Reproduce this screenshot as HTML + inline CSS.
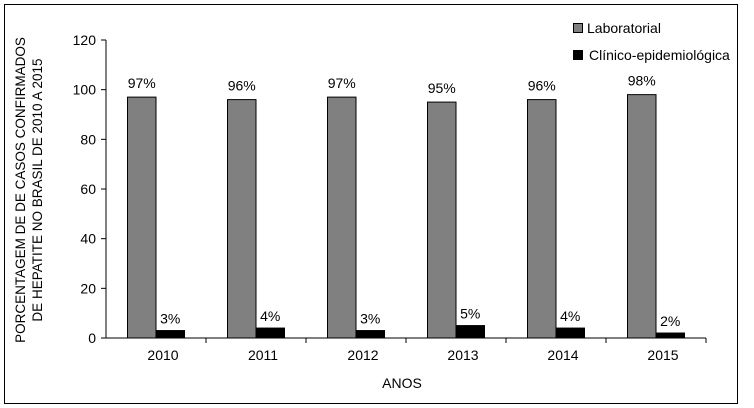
<!DOCTYPE html>
<html><head><meta charset="utf-8"><style>
body{margin:0;background:#fff;}
svg{display:block;font-family:"Liberation Sans",sans-serif;}
</style></head><body>
<svg width="754" height="408">
<rect x="4.5" y="4.5" width="733" height="399" fill="#fff" stroke="#000" stroke-width="1"/>
<g id="plot"></g>
<text x="402" y="388" text-anchor="middle" font-size="14">ANOS</text>
<text transform="translate(25,190) rotate(-90)" text-anchor="middle" font-size="13.5"><tspan x="0" dy="0">PORCENTAGEM DE DE CASOS CONFIRMADOS</tspan><tspan x="0" dy="17">DE HEPATITE NO BRASIL DE 2010 A 2015</tspan></text>
<rect x="573.5" y="23.5" width="9" height="9" fill="#808080" stroke="#000"/>
<text x="587" y="33" font-size="14">Laboratorial</text>
<rect x="573.5" y="50.5" width="9" height="9" fill="#000" stroke="#000"/>
<text x="589" y="60" font-size="14">Clínico-epidemiológica</text>
</svg>
<script>
const categories=["2010","2011","2012","2013","2014","2015"];
const labValues=[97,96,97,95,96,98];
const clinValues=[3,4,3,5,4,2];
const yTicks=[0,20,40,60,80,100,120];
const NS="http://www.w3.org/2000/svg";
const g=document.getElementById("plot");
const x0=106,catW=100,y0=338,yMax=120,yTop=40;
const y=v=>y0-(v/yMax)*(y0-yTop);
const bw=28.5;
function mk(tag,attrs,txt){const e=document.createElementNS(NS,tag);for(const k in attrs)e.setAttribute(k,attrs[k]);if(txt!==undefined)e.textContent=txt;g.appendChild(e);return e;}
let a=mk("line",{x1:x0,y1:yTop,x2:x0,y2:y0,stroke:"#000"});


yTicks.forEach(t=>{
 let l=mk("line",{x1:x0-5,y1:y(t),x2:x0,y2:y(t),stroke:"#000"});
 
 
 let tx=mk("text",{x:x0-10,y:y(t)+5,"text-anchor":"end","font-size":"14"},String(t));
 
 
});
let xa=mk("line",{x1:x0,y1:y0,x2:x0+catW*categories.length,y2:y0,stroke:"#000"});


categories.forEach((c,i)=>{
 const cx=x0+catW*i;
 let tk=mk("line",{x1:cx+catW,y1:y0,x2:cx+catW,y2:y0+5,stroke:"#000"});
 
 
 let lb=mk("text",{x:cx+catW/2+7,y:y0+22,"text-anchor":"middle","font-size":"14"},c);
 
 
 const gx=cx+21.5;
 let b1=mk("rect",{x:gx,y:y(labValues[i]),width:bw,height:y0-y(labValues[i]),fill:"#808080",stroke:"#000"});
 
 
 let t1=mk("text",{x:gx+bw/2,y:y(labValues[i])-9,"text-anchor":"middle","font-size":"14"},labValues[i]+"%");
 
 
 let b2=mk("rect",{x:gx+bw,y:y(clinValues[i]),width:bw,height:y0-y(clinValues[i]),fill:"#000",stroke:"#000"});
 
 
 let t2=mk("text",{x:gx+bw*1.5,y:y(clinValues[i])-7,"text-anchor":"middle","font-size":"14"},clinValues[i]+"%");
 
 
});
</script>
</body></html>
